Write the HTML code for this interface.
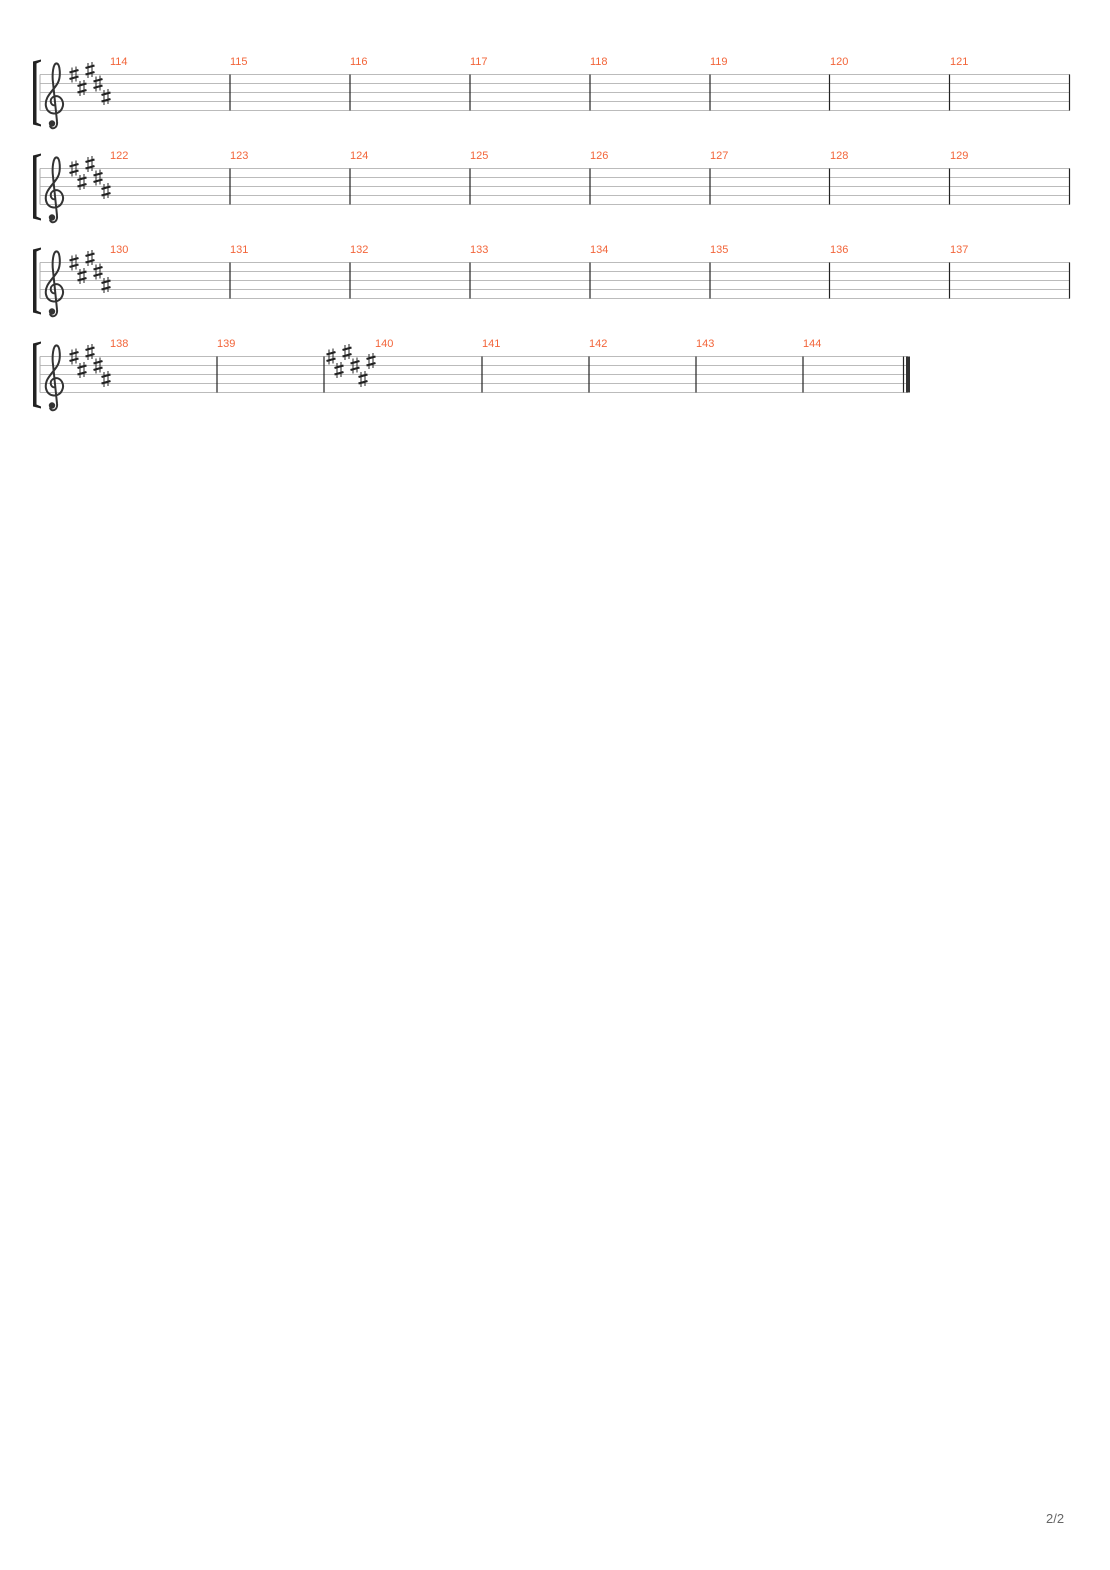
<!DOCTYPE html>
<html><head><meta charset="utf-8"><style>
body{margin:0;background:#fff;}
svg{display:block}
.n{font-family:"Liberation Sans",sans-serif;font-size:11px;fill:#f2653a}
</style></head><body>
<svg width="1110" height="1570" viewBox="0 0 1110 1570" xmlns="http://www.w3.org/2000/svg">
<defs>
<g id="sh" stroke="#222" fill="none">
<line x1="-2" y1="-7" x2="-2" y2="8" stroke-width="1"/>
<line x1="2" y1="-8" x2="2" y2="7" stroke-width="1"/>
<line x1="-4.5" y1="-2" x2="4.5" y2="-4.5" stroke-width="2.2"/>
<line x1="-4.5" y1="4.5" x2="4.5" y2="2" stroke-width="2.2"/>
</g>
<g id="clef">
<path d="M11 31 C6 31 5 24 10 22 C17 20 21 28 18 34 C15 41 4 41 2 32 C0 22 10 16 14 8 C17 2 16 -10 13 -11 C9 -12 8 0 9 8 L13 47 C14 54 7 56 6 51" fill="none" stroke="#333" stroke-width="2"/>
<circle cx="8" cy="49" r="3.2" fill="#333"/>
</g>
<g id="br">
<rect x="33" y="0" width="3.5" height="63" fill="#222"/>
<path d="M33 0 L41 -2 L41 0 L36.5 2 Z" fill="#222"/>
<path d="M33 63 L41 65 L41 63 L36.5 61 Z" fill="#222"/>
</g>
<g id="key">
<use href="#sh" x="74" y="0"/><use href="#sh" x="82" y="13.5"/><use href="#sh" x="90" y="-4.5"/><use href="#sh" x="98" y="9"/><use href="#sh" x="106" y="22.5"/>
</g>
<g id="lines" stroke="#bbbbbb" stroke-width="1">
<line x1="40" y1="0" x2="1070" y2="0"/><line x1="40" y1="9" x2="1070" y2="9"/><line x1="40" y1="18" x2="1070" y2="18"/><line x1="40" y1="27" x2="1070" y2="27"/><line x1="40" y1="36" x2="1070" y2="36"/>
</g>
<g id="bars" stroke="#222" stroke-width="1.2">
<line x1="230" y1="0" x2="230" y2="36"/><line x1="350" y1="0" x2="350" y2="36"/><line x1="470" y1="0" x2="470" y2="36"/><line x1="590" y1="0" x2="590" y2="36"/><line x1="710" y1="0" x2="710" y2="36"/><line x1="829.5" y1="0" x2="829.5" y2="36"/><line x1="949.5" y1="0" x2="949.5" y2="36"/><line x1="1069.5" y1="0" x2="1069.5" y2="36"/>
</g>
<g id="head">
<use href="#br" y="-13"/>
<line x1="40" y1="0" x2="40" y2="36" stroke="#aaa" stroke-width="1"/>
<use href="#clef" x="44" y="0"/>
<use href="#key"/>
</g>
</defs>

<g transform="translate(0,74.5)"><use href="#lines"/><use href="#bars"/><use href="#head"/></g>
<text class="n" x="110" y="65">114</text><text class="n" x="230" y="65">115</text><text class="n" x="350" y="65">116</text><text class="n" x="470" y="65">117</text><text class="n" x="590" y="65">118</text><text class="n" x="710" y="65">119</text><text class="n" x="830" y="65">120</text><text class="n" x="950" y="65">121</text>

<g transform="translate(0,168.5)"><use href="#lines"/><use href="#bars"/><use href="#head"/></g>
<text class="n" x="110" y="159">122</text><text class="n" x="230" y="159">123</text><text class="n" x="350" y="159">124</text><text class="n" x="470" y="159">125</text><text class="n" x="590" y="159">126</text><text class="n" x="710" y="159">127</text><text class="n" x="830" y="159">128</text><text class="n" x="950" y="159">129</text>

<g transform="translate(0,262.5)"><use href="#lines"/><use href="#bars"/><use href="#head"/></g>
<text class="n" x="110" y="253">130</text><text class="n" x="230" y="253">131</text><text class="n" x="350" y="253">132</text><text class="n" x="470" y="253">133</text><text class="n" x="590" y="253">134</text><text class="n" x="710" y="253">135</text><text class="n" x="830" y="253">136</text><text class="n" x="950" y="253">137</text>

<g transform="translate(0,356.5)">
<g stroke="#bbbbbb" stroke-width="1">
<line x1="40" y1="0" x2="908" y2="0"/><line x1="40" y1="9" x2="908" y2="9"/><line x1="40" y1="18" x2="908" y2="18"/><line x1="40" y1="27" x2="908" y2="27"/><line x1="40" y1="36" x2="908" y2="36"/>
</g>
<g stroke="#222" stroke-width="1.2">
<line x1="217" y1="0" x2="217" y2="36"/><line x1="324" y1="0" x2="324" y2="36"/><line x1="482" y1="0" x2="482" y2="36"/><line x1="589" y1="0" x2="589" y2="36"/><line x1="696" y1="0" x2="696" y2="36"/><line x1="803" y1="0" x2="803" y2="36"/><line x1="903.5" y1="0" x2="903.5" y2="36"/>
</g>
<rect x="906" y="0" width="4" height="36" fill="#333"/>
<use href="#head"/>
<use href="#sh" x="331" y="0"/><use href="#sh" x="339" y="13.5"/><use href="#sh" x="347" y="-4.5"/><use href="#sh" x="355" y="9"/><use href="#sh" x="363" y="22.5"/><use href="#sh" x="371" y="4.5"/>
</g>
<text class="n" x="110" y="347">138</text><text class="n" x="217" y="347">139</text><text class="n" x="375" y="347">140</text><text class="n" x="482" y="347">141</text><text class="n" x="589" y="347">142</text><text class="n" x="696" y="347">143</text><text class="n" x="803" y="347">144</text>

<text x="1046" y="1523" font-family="Liberation Sans,sans-serif" font-size="13" fill="#666">2/2</text>
</svg>
</body></html>
